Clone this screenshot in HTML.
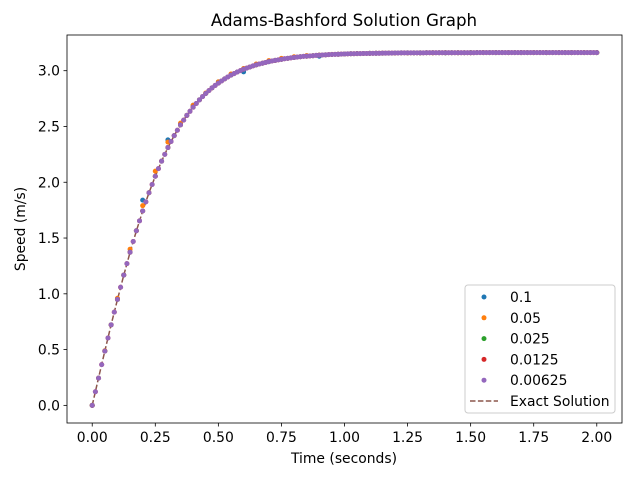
<!DOCTYPE html>
<html><head><meta charset="utf-8"><style>
body{margin:0;background:#fff}
svg{display:block;font-family:"DejaVu Sans","Liberation Sans",sans-serif}
</style></head><body>
<svg id="chart" width="640" height="480" viewBox="0 0 640 480">
<rect x="0" y="0" width="640" height="480" fill="#fff"/>
<text x="344" y="26" text-anchor="middle" font-size="16.7">Adams-Bashford Solution Graph</text>
<g id="grid"></g>
<g id="marks"></g>
<rect x="67" y="35" width="555" height="388" fill="none" stroke="#000" stroke-width="0.8"/>
<text x="344" y="463" text-anchor="middle" font-size="13.9">Time (seconds)</text>
<text transform="translate(25,229) rotate(-90)" text-anchor="middle" font-size="13.9">Speed (m/s)</text>
<g id="legend"></g>
</svg>
<script>
const seriesLabels=["0.1","0.05","0.025","0.0125","0.00625"];
const seriesSteps=[0.1,0.05,0.025,0.0125,0.0125];
const colors=["#1f77b4","#ff7f0e","#2ca02c","#d62728","#9467bd"];
const s01=[0,0.95,1.84,2.38,2.69,2.90,2.99,3.08,3.12,3.13,3.15,3.155,3.159,3.16,3.16,3.161,3.162,3.162,3.162,3.162,3.162];
const s005=[0,0.49,0.96,1.40,1.79,2.10,2.36,2.53,2.69,2.80,2.90,2.97,3.02,3.06,3.09,3.11,3.125,3.135,3.14,3.146,3.15,3.153,3.155,3.157,3.158,3.159,3.16,3.16,3.161,3.161,3.161,3.162,3.162,3.162,3.162,3.162,3.162,3.162,3.162,3.162,3.162];
const exact=[0,0.2445,0.486,0.722,0.950,1.168,1.373,1.565,1.742,1.906,2.054,2.189,2.311,2.418,2.514,2.599,2.673,2.739,2.796,2.846,2.889,2.927,2.960,2.988,3.013,3.033,3.052,3.067,3.081,3.092,3.102,3.111,3.118,3.125,3.130,3.134,3.139,3.142,3.145,3.147,3.150,3.152,3.153,3.154,3.155,3.156,3.157,3.158,3.159,3.160,3.160,3.160,3.160,3.161,3.161,3.161,3.161,3.161,3.161,3.161,3.162,3.162,3.162,3.162,3.162,3.162,3.162,3.162,3.162,3.162,3.162,3.162,3.162,3.162,3.162,3.162,3.162,3.162,3.162,3.162,3.162];
const s0025=exact.slice();
const fineHead=[0,0.122,0.2445,0.365,0.486,0.604,0.722,0.836,0.950,1.059,1.168,1.271,1.373,1.469,1.565,1.654,1.742,1.824,1.906,1.980,2.054,2.122,2.189,2.250,2.311,2.365,2.418,2.466,2.514,2.557,2.599,2.636,2.673,2.706,2.739,2.768,2.796,2.821,2.846,2.868,2.889,2.908,2.927,2.944,2.960,2.974,2.988,3.001,3.013,3.023,3.033,3.043,3.052,3.060,3.067,3.074,3.081,3.087,3.092,3.097,3.102,3.107,3.111,3.115,3.118,3.122,3.125,3.128,3.130,3.132,3.134,3.137,3.139,3.141,3.142,3.144,3.145,3.146,3.147,3.149,3.150,3.151,3.152,3.152,3.153,3.153,3.154,3.154,3.155,3.155,3.156,3.156,3.157,3.157,3.158,3.158,3.159,3.159];
const fineTail=[3.160,3.160,3.160,3.160,3.160,3.160,3.160,3.160,3.161,3.161,3.161,3.161,3.161,3.161,3.161,3.161,3.161,3.161,3.161,3.161,3.161,3.161,3.161,3.161,3.162,3.162,3.162,3.162,3.162,3.162,3.162,3.162,3.162,3.162,3.162,3.162,3.162,3.162,3.162,3.162,3.162,3.162,3.162,3.162,3.162,3.162,3.162,3.162,3.162,3.162,3.162,3.162,3.162,3.162,3.162,3.162,3.162,3.162,3.162,3.162,3.162,3.162,3.162];
const s00125=fineHead.concat(fineTail);
const s000625=fineHead.concat(fineTail);
const seriesValues=[s01,s005,s0025,s00125,s000625];
const xTicks=[0,0.25,0.5,0.75,1,1.25,1.5,1.75,2];
const xTickLabels=["0.00","0.25","0.50","0.75","1.00","1.25","1.50","1.75","2.00"];
const yTicks=[0,0.5,1,1.5,2,2.5,3];
const yTickLabels=["0.0","0.5","1.0","1.5","2.0","2.5","3.0"];
const exactStep=0.025;

const X=t=>67+(t+0.1)*555/2.2;
const Y=v=>423-(v+0.158)*388/3.478;
const NS="http://www.w3.org/2000/svg";
const grid=document.getElementById('grid');
const marks=document.getElementById('marks');
function mk(tag,attrs,parent){const e=document.createElementNS(NS,tag);for(const k in attrs)e.setAttribute(k,attrs[k]);parent.appendChild(e);return e;}
xTicks.forEach((t,i)=>{
  const l=mk('line',{x1:X(t),x2:X(t),y1:423,y2:426.5,stroke:'#000','stroke-width':0.8},grid);
  
  
  const tx=mk('text',{x:X(t),y:442,'text-anchor':'middle','font-size':13.9},grid);
  tx.textContent=xTickLabels[i];
  
  
});
yTicks.forEach((v,i)=>{
  const l=mk('line',{x1:63.5,x2:67,y1:Y(v),y2:Y(v),stroke:'#000','stroke-width':0.8},grid);
  
  
  const tx=mk('text',{x:60,y:Y(v)+5,'text-anchor':'end','font-size':13.9},grid);
  tx.textContent=yTickLabels[i];
  
  
});
const pts=exact.map((v,i)=>X(i*exactStep).toFixed(1)+','+Y(v).toFixed(1)).join(' ');
const el=mk('polyline',{points:pts,fill:'none',stroke:'#8c564b','stroke-width':1.5,'stroke-dasharray':'5.5,2.4'},marks);


seriesValues.forEach((arr,s)=>{
  const g=mk('g',{fill:colors[s]},marks);
  
  
  arr.forEach((v,i)=>{
    const c=mk('circle',{cx:X(i*seriesSteps[s]),cy:Y(v),r:2.5},g);
    
    
  });
});
const lg=document.getElementById('legend');
mk('rect',{x:465,y:285,width:150,height:128,rx:3,fill:'#fff','fill-opacity':0.8,stroke:'#ccc','stroke-width':1},lg);
const legendLabels=seriesLabels.concat(["Exact Solution"]);
legendLabels.forEach((lab,i)=>{
  const y=297+i*20.8;
  const g=mk('g',{},lg);
  
  
  if(i<5){mk('circle',{cx:484,cy:y,r:2.5,fill:colors[i]},g);}
  else{mk('line',{x1:470,x2:498,y1:y,y2:y,stroke:'#8c564b','stroke-width':1.5,'stroke-dasharray':'5.5,2.4'},g);}
  const t=mk('text',{x:510,y:y+5,'font-size':13.9},g);
  t.textContent=lab;
});
</script>
</body></html>
